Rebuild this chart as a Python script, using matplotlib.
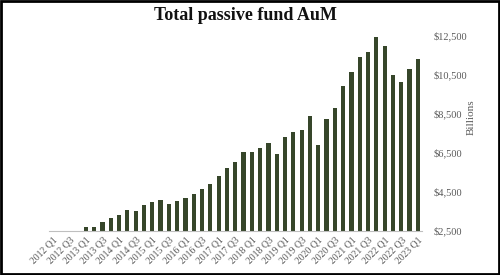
# plot

import matplotlib
matplotlib.use("Agg")
from matplotlib import pyplot as plt
from matplotlib.patches import Rectangle

quarters = []
for year in range(2012, 2024):
    for q in range(1, 5):
        quarters.append("%d Q%d" % (year, q))
quarters = quarters[:45]  # 2012 Q1 .. 2023 Q1

# AuM in billions (2012 values sit below the axis floor)
aum = [2200, 2250, 2350, 2450,
       2705, 2705, 2927, 3167,
       3286, 3543, 3508, 3799,
       3987, 4073, 3885, 4038,
       4192, 4380, 4654, 4876,
       5321, 5697, 6021, 6517,
       6517, 6739, 7013, 6432,
       7303, 7577, 7679, 8363,
       6893, 8209, 8791, 9936,
       10620, 11423, 11645, 12415,
       11970, 10483, 10124, 10808,
       11303]

yticks = [2500, 4500, 6500, 8500, 10500, 12500]
ytick_labels = ["$2,500", "$4,500", "$6,500", "$8,500", "$10,500", "$12,500"]

plt.rcParams['font.family'] = ['Liberation Serif', 'DejaVu Serif']

fig = plt.figure(figsize=(5, 2.75), dpi=100)
ax = fig.add_axes([0.097, 0.161, 0.747, 0.709])

x = list(range(len(quarters)))
ax.bar(x, aum, width=0.5, color="#36462a")

ax.set_xlim(-0.5, len(quarters) - 0.5)
ax.set_ylim(2500, 12500)

ax.set_xticks(x[::2])
ax.set_xticklabels(quarters[::2], rotation=45, ha="right",
                   rotation_mode="anchor", fontsize=7, color="#595959")
ax.tick_params(axis="x", length=0, pad=3)

ax.yaxis.tick_right()
ax.yaxis.set_label_position("right")
ax.set_yticks(yticks)
ax.set_yticklabels(ytick_labels, fontsize=7.5, color="#595959")
ax.tick_params(axis="y", length=0, pad=8)
ax.set_ylabel("Billions", fontsize=8, color="#595959")
ax.yaxis.set_label_coords(1.12, 0.58)

for s in ["top", "right", "left"]:
    ax.spines[s].set_visible(False)
ax.spines["bottom"].set_color("#bfbfbf")
ax.spines["bottom"].set_linewidth(0.8)

fig.text(0.49, 0.945, "Total passive fund AuM", ha="center", va="center",
         fontsize=13, fontweight="bold", color="#111111")

fig.patches.append(Rectangle((0.002, 0.003), 0.996, 0.994, transform=fig.transFigure,
                             fill=False, edgecolor="black", linewidth=2))

fig.savefig("out.png", dpi=100)
